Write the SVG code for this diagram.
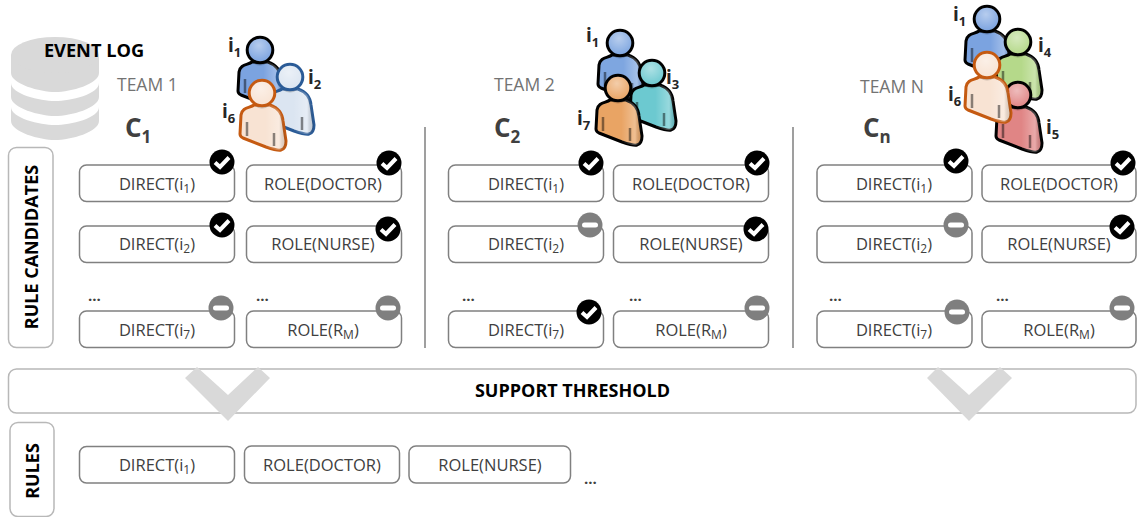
<svg xmlns="http://www.w3.org/2000/svg" xmlns:xlink="http://www.w3.org/1999/xlink" width="1137" height="517" viewBox="0 0 1137 517">
<style>
text{font-family:"Open Sans","Noto Sans","Liberation Sans",sans-serif}
.box{fill:#fff;stroke:#808080;stroke-width:1.5}
.t{font-size:16.5px;fill:#404040;text-anchor:middle}
.s{font-size:12px}
.b{font-weight:700;fill:#000}
.team{font-size:17.500px;fill:#737373}
.c{font-size:26px;font-weight:700;fill:#404040}
.cs{font-size:17px}
.id{font-size:19px;font-weight:700;fill:#262626}
.ids{font-size:13px}
.dots{font-size:15px;font-weight:700;fill:#404040}
.frame{fill:#fff;stroke:#b8b8b8;stroke-width:1.5}
.div{stroke:#808080;stroke-width:1.5}
.chev{fill:#d9d9d9}
.disk{fill:#d9d9d9}
</style>
<defs>
<radialGradient id="hl" cx=".45" cy=".3" r=".75"><stop offset="0" stop-color="#fff" stop-opacity=".45"/><stop offset="1" stop-color="#fff" stop-opacity="0"/></radialGradient>
<linearGradient id="bs" x1="0" y1="0" x2="1" y2="0"><stop offset=".55" stop-color="#fff" stop-opacity="0"/><stop offset=".85" stop-color="#fff" stop-opacity=".3"/><stop offset="1" stop-color="#000" stop-opacity=".1"/></linearGradient>
<g id="person">
<path d="M-8,12C-12,15-20,14-21,22L-22,41C-22,43-21,44-19,45L4,54C10,56 16,58 19,57C23,56 24,52 24,48L21,28C20,18 14,14 8,12Z" style="fill:var(--f);stroke:var(--l)" stroke-width="3" stroke-linejoin="round"/>
<path d="M-8,12C-12,15-20,14-21,22L-22,41C-22,43-21,44-19,45L4,54C10,56 16,58 19,57C23,56 24,52 24,48L21,28C20,18 14,14 8,12Z" fill="url(#bs)"/>
<path d="M-7,13Q0,18 7,13L5,10H-5Z" fill="#000" opacity=".18"/>
<path d="M-15,29V43M12,40V53" stroke="#000" stroke-opacity=".45" stroke-width="2.500" fill="none"/>
<circle r="12.800" style="fill:var(--f);stroke:var(--l)" stroke-width="3"/>
<circle r="11.300" fill="url(#hl)"/>
</g>
<g id="ok"><circle r="12.500" fill="#000"/><path d="M-7,0.5L-2,5L7,-4.500" fill="none" stroke="#fff" stroke-width="4"/></g>
<g id="no"><circle r="12.500" fill="#7f7f7f"/><rect x="-8" y="-2.500" width="16" height="5" rx="2.500" fill="#fff"/></g>
</defs>
<rect width="1137" height="517" fill="#fff"/>

<g id="event-log">
<path class="disk" d="M11,107V121C11,132 40,140 55,140C71,140 99,132 99,121V107C99,118 71,125 55,125C40,125 11,118 11,107Z"/>
<path class="disk" d="M11,83V97C11,108 40,116 55,116C71,116 99,108 99,97V83C99,94 71,101 55,101C40,101 11,94 11,83Z"/>
<path class="disk" d="M11,55V73C11,84 40,92 55,92C71,92 99,84 99,73V55Z"/>
<ellipse class="disk" cx="55" cy="55" rx="44" ry="18"/>
<text x="94" y="57" text-anchor="middle" font-size="18.200" class="b">EVENT LOG</text>
</g>

<g id="connectors">
<path class="div" d="M425,127V348M793,127V348"/>
</g>

<g id="label-rule-candidates"><rect class="frame" x="8.500" y="147.500" width="44.500" height="200" rx="8"/>
<text transform="translate(38,247) rotate(-90)" text-anchor="middle" font-size="18" class="b">RULE CANDIDATES</text></g>

<g id="team-1">
<text class="team" x="117" y="91">TEAM 1</text>
<text class="c" x="125" y="137">C<tspan class="cs" dy="6">1</tspan></text>
<use href="#person" x="260" y="50" style="--f:#7ba3e0;--l:#000"/>
<use href="#person" x="290" y="77" style="--f:#dbe5f1;--l:#2a5b97"/>
<use href="#person" x="262" y="93" style="--f:#f8e3d3;--l:#c55a11"/>
<text class="id" x="228" y="52">i<tspan class="ids" dy="5">1</tspan></text>
<text class="id" x="308" y="84">i<tspan class="ids" dy="5">2</tspan></text>
<text class="id" x="222" y="118">i<tspan class="ids" dy="5">6</tspan></text>
</g>
<g id="team-2">
<text class="team" x="494" y="91">TEAM 2</text>
<text class="c" x="494" y="137">C<tspan class="cs" dy="6">2</tspan></text>
<use href="#person" x="620" y="43" style="--f:#7ea6e0;--l:#000"/>
<use href="#person" x="652" y="73" style="--f:#6cc9d0;--l:#000"/>
<use href="#person" x="618" y="88" style="--f:#e9a464;--l:#000"/>
<text class="id" x="586" y="42">i<tspan class="ids" dy="5">1</tspan></text>
<text class="id" x="666" y="84">i<tspan class="ids" dy="5">3</tspan></text>
<text class="id" x="577" y="125">i<tspan class="ids" dy="5">7</tspan></text>
</g>
<g id="team-n">
<text class="team" x="860" y="93">TEAM N</text>
<text class="c" x="863" y="137">C<tspan class="cs" dy="6">n</tspan></text>
<use href="#person" x="987" y="19" style="--f:#7ba3e0;--l:#000"/>
<use href="#person" x="1018" y="42" style="--f:#b5d98a;--l:#000"/>
<use href="#person" x="1018" y="95" style="--f:#e08585;--l:#000"/>
<use href="#person" x="987" y="65" style="--f:#f8e3d3;--l:#c55a11"/>
<text class="id" x="953" y="21">i<tspan class="ids" dy="5">1</tspan></text>
<text class="id" x="1038" y="52">i<tspan class="ids" dy="5">4</tspan></text>
<text class="id" x="948" y="101">i<tspan class="ids" dy="5">6</tspan></text>
<text class="id" x="1046" y="134">i<tspan class="ids" dy="5">5</tspan></text>
</g>

<g id="c1-direct-i1"><rect class="box" x="79.500" y="165" width="155" height="36.500" rx="7"/><text class="t" x="157" y="190">DIRECT(i<tspan class="s" dy="3">1</tspan><tspan dy="-3">)</tspan></text><use href="#ok" x="222" y="162"/></g>
<g id="c1-role-doctor"><rect class="box" x="246.500" y="165" width="155" height="36.500" rx="7"/><text class="t" x="323" y="190">ROLE(DOCTOR)</text><use href="#ok" x="389" y="163"/></g>
<g id="c1-direct-i2"><rect class="box" x="79.500" y="226" width="155" height="36.500" rx="7"/><text class="t" x="157" y="250">DIRECT(i<tspan class="s" dy="3">2</tspan><tspan dy="-3">)</tspan></text><use href="#ok" x="222" y="225"/></g>
<g id="c1-role-nurse"><rect class="box" x="246.500" y="226" width="155" height="36.500" rx="7"/><text class="t" x="323" y="250">ROLE(NURSE)</text><use href="#ok" x="388" y="229"/></g>
<g id="c1-direct-i7"><rect class="box" x="79.500" y="311" width="155" height="36.500" rx="7"/><text class="t" x="157" y="336">DIRECT(i<tspan class="s" dy="3">7</tspan><tspan dy="-3">)</tspan></text><use href="#no" x="221" y="308"/></g>
<g id="c1-role-rm"><rect class="box" x="246.500" y="311" width="155" height="36.500" rx="7"/><text class="t" x="323" y="336">ROLE(R<tspan class="s" dy="3">M</tspan><tspan dy="-3">)</tspan></text><use href="#no" x="388" y="308"/></g>
<text class="dots" x="88" y="301">...</text><text class="dots" x="256" y="301">...</text>

<g id="c2-direct-i1"><rect class="box" x="448.500" y="165" width="155" height="36.500" rx="7"/><text class="t" x="526" y="190">DIRECT(i<tspan class="s" dy="3">1</tspan><tspan dy="-3">)</tspan></text><use href="#ok" x="591" y="163"/></g>
<g id="c2-role-doctor"><rect class="box" x="613.500" y="165" width="155" height="36.500" rx="7"/><text class="t" x="691" y="190">ROLE(DOCTOR)</text><use href="#ok" x="757" y="163"/></g>
<g id="c2-direct-i2"><rect class="box" x="448.500" y="226" width="155" height="36.500" rx="7"/><text class="t" x="526" y="250">DIRECT(i<tspan class="s" dy="3">2</tspan><tspan dy="-3">)</tspan></text><use href="#no" x="590" y="225"/></g>
<g id="c2-role-nurse"><rect class="box" x="613.500" y="226" width="155" height="36.500" rx="7"/><text class="t" x="691" y="250">ROLE(NURSE)</text><use href="#ok" x="756" y="229"/></g>
<g id="c2-direct-i7"><rect class="box" x="448.500" y="311" width="155" height="36.500" rx="7"/><text class="t" x="526" y="336">DIRECT(i<tspan class="s" dy="3">7</tspan><tspan dy="-3">)</tspan></text><use href="#ok" x="589" y="312"/></g>
<g id="c2-role-rm"><rect class="box" x="613.500" y="311" width="155" height="36.500" rx="7"/><text class="t" x="691" y="336">ROLE(R<tspan class="s" dy="3">M</tspan><tspan dy="-3">)</tspan></text><use href="#no" x="757" y="308"/></g>
<text class="dots" x="462" y="301">...</text><text class="dots" x="629" y="301">...</text>

<g id="cn-direct-i1"><rect class="box" x="817" y="165" width="155" height="36.500" rx="7"/><text class="t" x="894" y="190">DIRECT(i<tspan class="s" dy="3">1</tspan><tspan dy="-3">)</tspan></text><use href="#ok" x="956" y="161"/></g>
<g id="cn-role-doctor"><rect class="box" x="982" y="165" width="154" height="36.500" rx="7"/><text class="t" x="1059" y="190">ROLE(DOCTOR)</text><use href="#ok" x="1123" y="163"/></g>
<g id="cn-direct-i2"><rect class="box" x="817" y="226" width="155" height="36.500" rx="7"/><text class="t" x="894" y="250">DIRECT(i<tspan class="s" dy="3">2</tspan><tspan dy="-3">)</tspan></text><use href="#no" x="956" y="225"/></g>
<g id="cn-role-nurse"><rect class="box" x="982" y="226" width="154" height="36.500" rx="7"/><text class="t" x="1059" y="250">ROLE(NURSE)</text><use href="#ok" x="1122" y="227"/></g>
<g id="cn-direct-i7"><rect class="box" x="817" y="311" width="155" height="36.500" rx="7"/><text class="t" x="894" y="336">DIRECT(i<tspan class="s" dy="3">7</tspan><tspan dy="-3">)</tspan></text><use href="#no" x="957" y="312"/></g>
<g id="cn-role-rm"><rect class="box" x="982" y="311" width="154" height="36.500" rx="7"/><text class="t" x="1059" y="336">ROLE(R<tspan class="s" dy="3">M</tspan><tspan dy="-3">)</tspan></text><use href="#no" x="1122" y="308"/></g>
<text class="dots" x="829" y="301">...</text><text class="dots" x="996" y="301">...</text>

<g id="support-threshold"><rect class="frame" x="8.500" y="369" width="1127.500" height="44" rx="8"/>
<polygon class="chev" points="197,367 185,378 228,421 270,378 258,367 228,395"/>
<polygon class="chev" points="938,367 927,378 969,421 1012,378 1000,367 969,395"/>
<text x="572.500" y="397" text-anchor="middle" font-size="18" class="b">SUPPORT THRESHOLD</text></g>

<g id="label-rules"><rect class="frame" x="10" y="422.500" width="44" height="94" rx="8"/>
<text transform="translate(39,471) rotate(-90)" text-anchor="middle" font-size="18" class="b">RULES</text></g>
<g id="r-direct-i1"><rect class="box" x="79.500" y="446.500" width="155" height="36.500" rx="7"/><text class="t" x="157" y="471">DIRECT(i<tspan class="s" dy="3">1</tspan><tspan dy="-3">)</tspan></text></g>
<g id="r-role-doctor"><rect class="box" x="244.500" y="446" width="155" height="37" rx="7"/><text class="t" x="322" y="471">ROLE(DOCTOR)</text></g>
<g id="r-role-nurse"><rect class="box" x="409" y="446" width="161.500" height="37" rx="7"/><text class="t" x="490" y="471">ROLE(NURSE)</text></g>
<text class="dots" x="584" y="484">...</text>
</svg>
